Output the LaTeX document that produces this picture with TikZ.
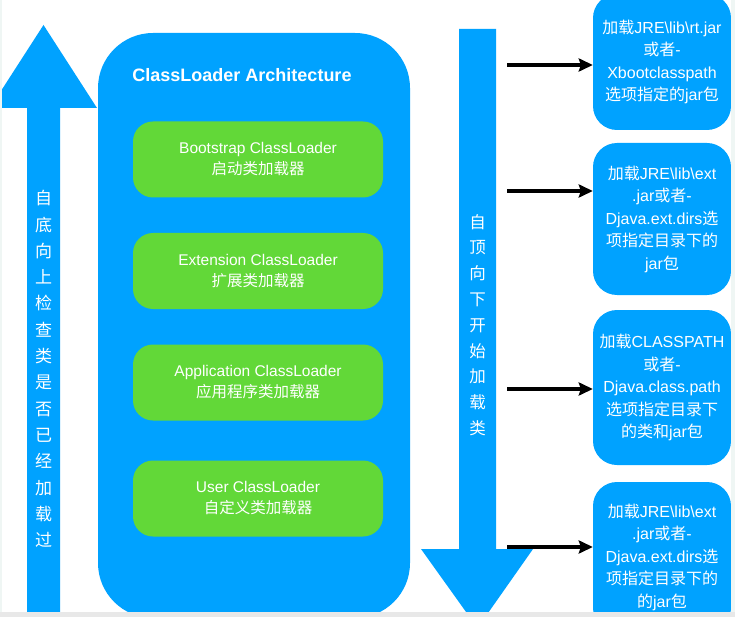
\documentclass[tikz,border=0pt]{standalone}
\usepackage{fontspec}
\setmainfont{Liberation Sans}
\newfontfamily\cjk{Noto Sans CJK SC}
\usetikzlibrary{arrows.meta}
\definecolor{archblue}{RGB}{0,162,255}
\definecolor{loadgreen}{RGB}{98,216,56}
\definecolor{edgetint}{RGB}{239,246,244}

\begin{document}
\begin{tikzpicture}[x=1pt,y=-1pt,
  loader/.style={fill=loadgreen,rounded corners=20pt,minimum width=250pt,minimum height=76pt,inner sep=0pt,text=white,align=center,font=\fontsize{15.5}{21}\selectfont},
  pathbox/.style={fill=archblue,rounded corners=24pt,minimum width=138pt,inner sep=0pt,text=white,align=center,font=\fontsize{16}{22.5}\selectfont},
  feed/.style={line width=3.2pt,-{Stealth[length=14pt,width=13pt,inset=2pt]}},
  vtext/.style={text=white,align=center,inner sep=0pt,font=\cjk\fontsize{17}{26.3}\selectfont}]
\useasboundingbox (0,0) rectangle (735,617);
\begin{scope}
\clip (0,0) rectangle (735,617);
\fill [white] (0,0) rectangle (735,617);
% up arrow, left
\fill [archblue] (43.5,25) -- (97,108) -- (60,108) -- (60,625) -- (27,625) -- (27,108) -- (-10,108) -- cycle;
\node [vtext] (up) at (43.5,369) {自\\底\\向\\上\\检\\查\\类\\是\\否\\已\\经\\加\\载\\过};
% container
\node [fill=archblue,rounded corners=55pt,minimum width=312pt,minimum height=585pt,inner sep=0pt] (arch) at (254,325.5) {};
\node [text=white,font=\bfseries\fontsize{18}{20}\selectfont] (title) at (242,75) {ClassLoader Architecture};
\node [loader] (boot) at (258,159.5) {Bootstrap ClassLoader\\{\cjk 启动类加载器}};
\node [loader] (ext) at (258,271) {Extension ClassLoader\\{\cjk 扩展类加载器}};
\node [loader] (app) at (258,382.5) {Application ClassLoader\\{\cjk 应用程序类加载器}};
\node [loader] (user) at (258,498.5) {User ClassLoader\\{\cjk 自定义类加载器}};
% down arrow
\fill [archblue] (459,29) -- (496,29) -- (496,549) -- (533,549) -- (477.5,628) -- (421,549) -- (459,549) -- cycle;
\node [vtext,font=\cjk\fontsize{16.5}{25.8}\selectfont] (down) at (477.5,325) {自\\顶\\向\\下\\开\\始\\加\\载\\类};
% right boxes
\node [pathbox,minimum height=136pt] (rt) at (662,62) {{\cjk 加载}JRE\textbackslash lib\textbackslash rt.jar\\{\cjk 或者}-\\Xbootclasspath\\{\cjk 选项指定的}jar{\cjk 包}};
\node [pathbox,minimum height=152pt] (extdir) at (662,219) {{\cjk 加载}JRE\textbackslash lib\textbackslash ext\\.jar{\cjk 或者}-\\Djava.ext.dirs{\cjk 选}\\{\cjk 项指定目录下的}\\jar{\cjk 包}};
\node [pathbox,minimum height=155pt] (cp) at (662,387.5) {{\cjk 加载}CLASSPATH\\{\cjk 或者}-\\Djava.class.path\\{\cjk 选项指定目录下}\\{\cjk 的类和}jar{\cjk 包}};
\node [pathbox,minimum height=150pt] (userdir) at (662,557) {{\cjk 加载}JRE\textbackslash lib\textbackslash ext\\.jar{\cjk 或者}-\\Djava.ext.dirs{\cjk 选}\\{\cjk 项指定目录下的}\\{\cjk 的}jar{\cjk 包}};
% arrows
\coordinate (s1) at (507,65);
\coordinate (s2) at (507,191);
\coordinate (s3) at (507,389);
\coordinate (s4) at (507,547);
\draw [feed] (s1) -- (s1 -| rt.west);
\draw [feed] (s2) -- (s2 -| extdir.west);
\draw [feed] (s3) -- (s3 -| cp.west);
\draw [feed] (s4) -- (s4 -| userdir.west);
% screen edges
\fill [edgetint] (731,0) rectangle (735,617);
\fill [edgetint] (0,0) rectangle (2,617);
\fill [black!9] (0,612) rectangle (735,617);
\end{scope}
\end{tikzpicture}
\end{document}
